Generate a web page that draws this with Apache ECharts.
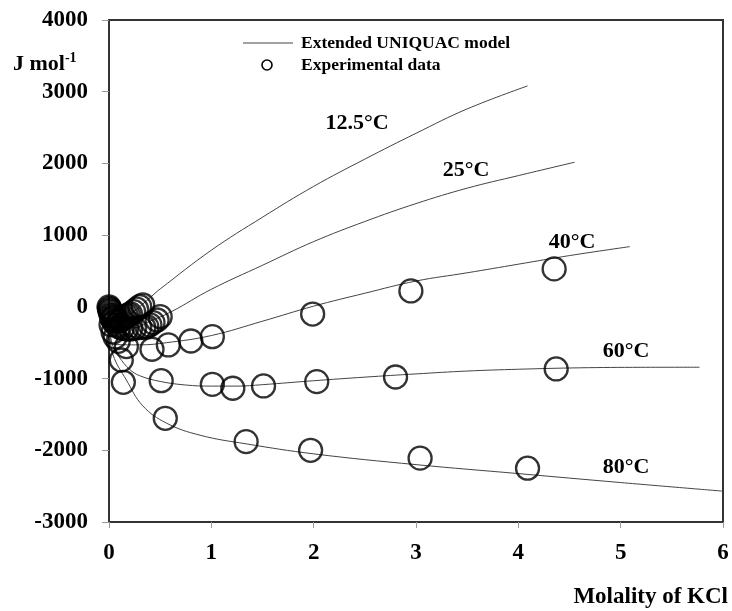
<!DOCTYPE html>
<html>
<head>
<meta charset="utf-8">
<script src="https://cdn.jsdelivr.net/npm/echarts@6/dist/echarts.min.js"></script>
<style>
html,body{margin:0;padding:0;background:#fff;}
#chart{width:732px;height:611px;}
</style>
</head>
<body>
<div id="chart"></div>
<script>
// Axis ticks
const xTicks = [0, 1, 2, 3, 4, 5, 6];
const yTicks = [-3000, -2000, -1000, 0, 1000, 2000, 3000, 4000];

// Extended UNIQUAC model curves [molality, J/mol]
const model125 = [[0.02,-60],[0.1,-170],[0.2,-110],[0.33,40],[0.45,190],[0.5,250],[1.0,790],[1.5,1250],[2.0,1680],[2.5,2060],[3.0,2420],[3.5,2760],[4.09,3081]];
const model25 = [[0.02,-100],[0.1,-260],[0.25,-290],[0.4,-200],[0.61,-67],[1.0,245],[1.5,580],[2.0,910],[2.5,1190],[3.0,1440],[3.5,1655],[4.0,1830],[4.55,2017]];
const model40 = [[0,-300],[0.03,-520],[0.3,-530],[0.56,-500],[1.0,-400],[1.5,-200],[2.0,10],[2.5,190],[3.0,360],[3.5,475],[4.0,595],[4.5,715],[5.09,840]];
const model60 = [[0,-300],[0.04,-555],[0.1,-700],[0.2,-870],[0.3,-960],[0.5,-1040],[0.75,-1090],[1.0,-1105],[1.25,-1105],[1.5,-1085],[2.0,-1030],[2.5,-980],[3.0,-935],[3.5,-895],[4.0,-870],[4.6,-850],[5.2,-843],[5.77,-842]];
const model80 = [[0,-300],[0.04,-671],[0.17,-1020],[0.33,-1380],[0.56,-1620],[0.89,-1790],[1.34,-1910],[2.0,-2050],[3.0,-2200],[4.0,-2325],[5.0,-2450],[6.0,-2570]];

// Experimental data [molality, J/mol]
const exp125 = [[0.0,0],[0.005,-20],[0.01,-40],[0.02,-80],[0.03,-120],[0.04,-140],[0.05,-150],[0.07,-180],[0.09,-200],[0.11,-190],[0.13,-170],[0.15,-150],[0.17,-127],[0.19,-112],[0.21,-99],[0.24,-67],[0.27,-33],[0.30,3],[0.33,26]];
const exp25 = [[0.01,-60],[0.02,-110],[0.03,-160],[0.04,-185],[0.05,-210],[0.07,-250],[0.1,-280],[0.13,-300],[0.17,-310],[0.21,-310],[0.25,-300],[0.3,-290],[0.34,-285],[0.37,-276],[0.40,-251],[0.43,-220],[0.47,-183],[0.50,-137]];
const exp40 = [[0.02,-250],[0.04,-350],[0.06,-420],[0.09,-480],[0.17,-555],[0.42,-591],[0.58,-531],[0.80,-476],[1.01,-416],[1.99,-100],[2.95,222],[4.35,529]];
const exp60 = [[0.12,-741],[0.51,-1030],[1.01,-1080],[1.21,-1135],[1.51,-1103],[2.03,-1043],[2.80,-978],[4.37,-866]];
const exp80 = [[0.14,-1052],[0.55,-1554],[1.34,-1880],[1.97,-2000],[3.04,-2110],[4.09,-2250]];

const tempLabels = ['12.5\u00B0C', '25\u00B0C', '40\u00B0C', '60\u00B0C', '80\u00B0C'];
const legendLabels = ['Extended UNIQUAC model', 'Experimental data'];
const modelSets = [model125, model25, model40, model60, model80];
const expSets = [exp125, exp25, exp40, exp60, exp80];

const FONT = '"Liberation Serif", "Times New Roman", serif';
const chart = echarts.init(document.getElementById('chart'));

const series = [];
modelSets.forEach(function (d) {
  series.push({
    name: legendLabels[0], type: 'line', data: d, symbol: 'none', showSymbol: false,
    smooth: 0.4,
    lineStyle: { color: '#444', width: 1 }, itemStyle: { color: '#444' }, z: 2
  });
});
expSets.forEach(function (d) {
  series.push({
    name: legendLabels[1], type: 'scatter', data: d, symbol: 'circle', symbolSize: 23,
    itemStyle: { color: 'rgba(0,0,0,0)', borderColor: '#000', borderWidth: 2.3 }, z: 3
  });
});

const labelPos = [[357,123],[466,170],[572,242],[626,351],[626,467]];
const graphics = tempLabels.map(function (t, i) {
  return { type: 'text', x: labelPos[i][0], y: labelPos[i][1],
    style: { text: t, font: 'bold 22px ' + FONT, fill: '#000', textAlign: 'center', textVerticalAlign: 'middle' } };
});
// legend
graphics.push({ type: 'line', shape: { x1: 243, y1: 43, x2: 293, y2: 43 }, style: { stroke: '#444', lineWidth: 1 } });
graphics.push({ type: 'circle', shape: { cx: 267, cy: 65, r: 5 }, style: { stroke: '#000', lineWidth: 1.6, fill: 'none' } });
graphics.push({ type: 'text', x: 301, y: 43, style: { text: legendLabels[0], font: 'bold 17.5px ' + FONT, fill: '#000', textVerticalAlign: 'middle' } });
graphics.push({ type: 'text', x: 301, y: 65, style: { text: legendLabels[1], font: 'bold 17.5px ' + FONT, fill: '#000', textVerticalAlign: 'middle' } });
// axis names
graphics.push({ type: 'text', x: 13, y: 64,
  style: { text: '{a|J mol}{s|-1}', textVerticalAlign: 'middle',
    rich: { a: { font: 'bold 22px ' + FONT, fill: '#000' }, s: { font: 'bold 14px ' + FONT, fill: '#000', verticalAlign: 'top', padding: [0,0,11,0] } } } });
graphics.push({ type: 'text', x: 728, y: 597,
  style: { text: 'Molality of KCl', font: 'bold 23px ' + FONT, fill: '#000', textAlign: 'right', textVerticalAlign: 'middle' } });

chart.setOption({
  animation: false,
  backgroundColor: '#fff',
  grid: { left: 109, right: 9, top: 20, bottom: 89, show: true, borderColor: '#333', borderWidth: 2, backgroundColor: 'transparent' },
  xAxis: {
    type: 'value', min: xTicks[0], max: xTicks[xTicks.length-1], interval: 1,
    axisLine: { show: true, onZero: false, lineStyle: { color: '#333', width: 2 } },
    axisTick: { show: true, length: 6, lineStyle: { color: '#999', width: 1 } },
    splitLine: { show: false },
    axisLabel: { margin: 20, fontFamily: FONT, fontWeight: 'bold', fontSize: 23, color: '#000', formatter: function (v) { return String(v); } }
  },
  yAxis: {
    type: 'value', min: yTicks[0], max: yTicks[yTicks.length-1], interval: 1000,
    axisLine: { show: true, onZero: false, lineStyle: { color: '#333', width: 2 } },
    axisTick: { show: true, length: 7, lineStyle: { color: '#999', width: 1 } },
    splitLine: { show: false },
    axisLabel: { margin: 21, fontFamily: FONT, fontWeight: 'bold', fontSize: 23, color: '#000', formatter: function (v) { return String(v); } }
  },
  graphic: graphics,
  series: series
});
</script>
</body>
</html>
